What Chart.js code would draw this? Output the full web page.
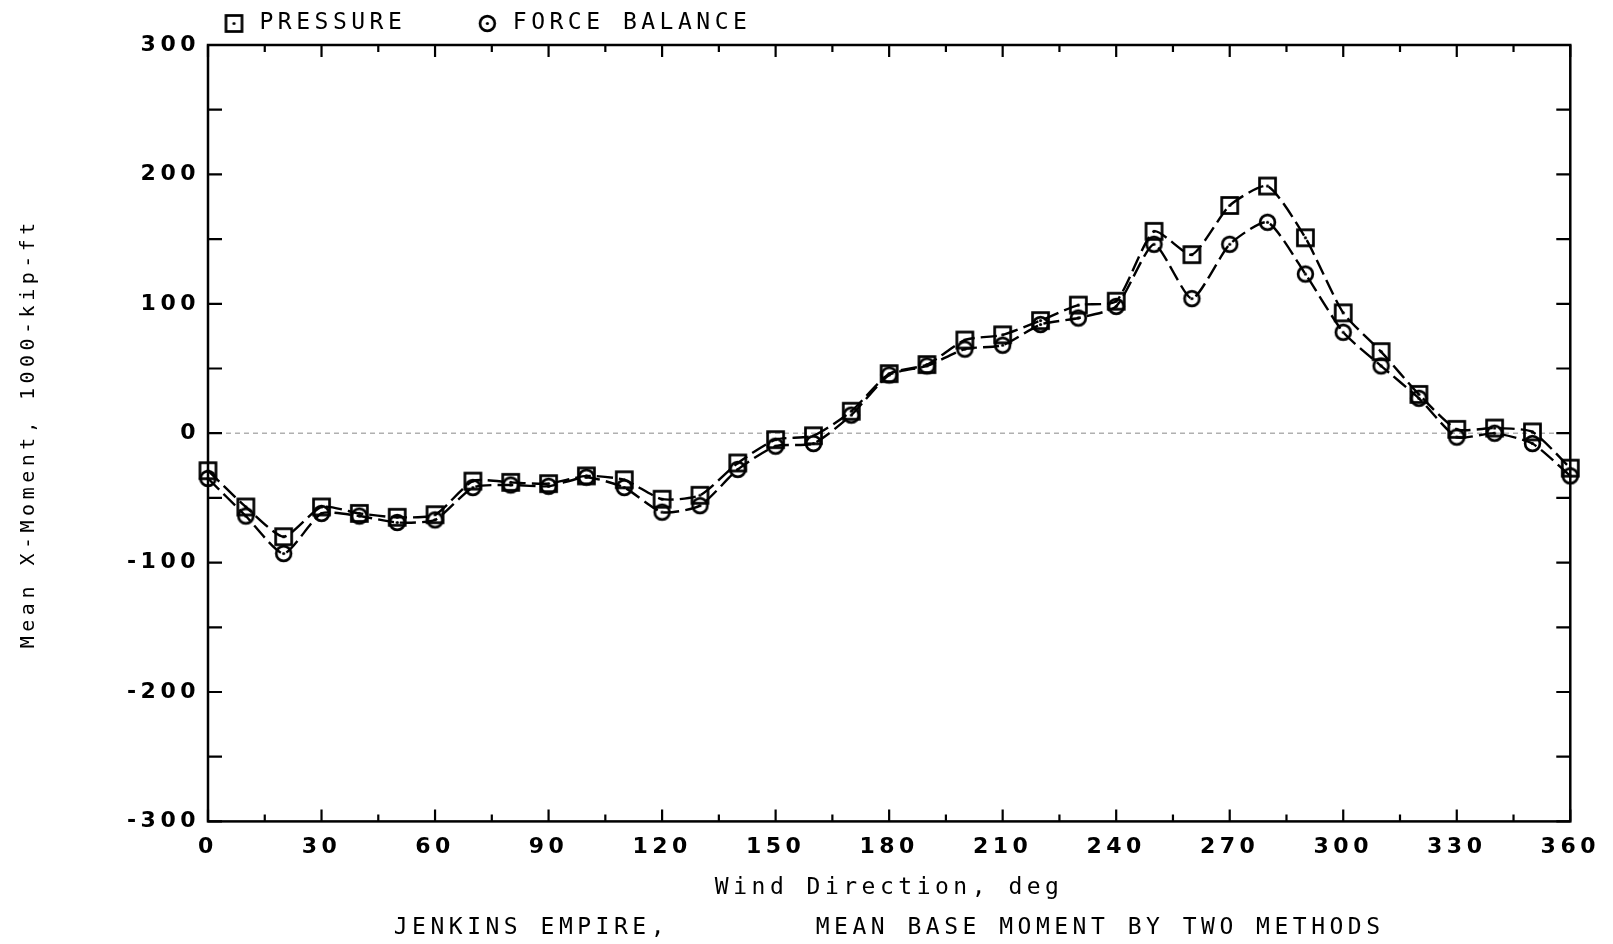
<!DOCTYPE html>
<html>
<head>
<meta charset="utf-8">
<title>Jenkins Empire - Mean Base Moment</title>
<script src="https://cdn.jsdelivr.net/npm/chart.js@4.4.1/dist/chart.umd.min.js"></script>
<style>
    html, body { margin: 0; padding: 0; background: #fff; }
    canvas { display: block; }
</style>
</head>
<body>
<canvas id="momentChart" width="1613" height="944"></canvas>
<script>
// Wind directions, deg
const directions = [0, 10, 20, 30, 40, 50, 60, 70, 80, 90, 100, 110, 120, 130, 140, 150, 160, 170, 180,
    190, 200, 210, 220, 230, 240, 250, 260, 270, 280, 290, 300, 310, 320, 330, 340, 350, 360];

// Mean X-moment from pressure integration, 1000-kip-ft
const pressure = [-29, -57, -80, -57, -62, -65, -63, -37, -38, -39, -33, -36, -51, -48, -23, -5, -2, 17, 46,
    53, 72, 76, 87, 99, 102, 156, 138, 176, 191, 151, 93, 63, 30, 3, 4, 1, -27];

// Mean X-moment from force balance, 1000-kip-ft
const forceBalance = [-35, -64, -93, -62, -64, -69, -67, -42, -40, -41, -34, -42, -61, -56, -28, -10, -8, 14, 45,
    52, 65, 68, 84, 89, 98, 146, 104, 146, 163, 123, 78, 52, 27, -3, 0, -8, -33];

// Tick labels
const xTickValues = [0, 30, 60, 90, 120, 150, 180, 210, 240, 270, 300, 330, 360];
const yTickValues = [-300, -200, -100, 0, 100, 200, 300];

const legendText = ['PRESSURE   ', 'FORCE BALANCE'];

const MONO = "'DejaVu Sans Mono', monospace";
const SANS = "'DejaVu Sans', sans-serif";

// Plotter style marker glyphs (outline with a dot in the middle)
function makeMarker(shape) {
    const c = document.createElement('canvas');
    c.width = 21;
    c.height = 21;
    const g = c.getContext('2d');
    g.strokeStyle = '#000';
    g.fillStyle = '#000';
    g.lineWidth = 2.7;
    if (shape === 'square') {
        g.strokeRect(2.5, 2.5, 16, 16);
    } else {
        g.beginPath();
        g.arc(10.5, 10.5, 7.4, 0, Math.PI * 2);
        g.stroke();
    }
    g.beginPath();
    g.arc(10.5, 10.5, 1.6, 0, Math.PI * 2);
    g.fill();
    return c;
}

// Wide letter spacing like the pen plotter lettering
const spacingPlugin = {
    id: 'plotterSpacing',
    beforeUpdate(chart) { chart.ctx.letterSpacing = '4.5px'; },
    beforeLayout(chart) { chart.ctx.letterSpacing = '4.5px'; },
    beforeDraw(chart) { chart.ctx.letterSpacing = '4.5px'; }
};

// Box frame with inward ticks on all four sides + dotted zero line
const framePlugin = {
    id: 'plotterFrame',
    beforeDatasetsDraw(chart) {
        const { ctx, chartArea: a, scales: { x, y } } = chart;
        ctx.save();

        ctx.strokeStyle = '#b0b0b0';
        ctx.lineWidth = 1.5;
        ctx.setLineDash([5, 4]);
        const y0 = y.getPixelForValue(0);
        ctx.beginPath();
        ctx.moveTo(a.left, y0);
        ctx.lineTo(a.right, y0);
        ctx.stroke();
        ctx.setLineDash([]);

        ctx.strokeStyle = '#000';
        ctx.lineWidth = 2.5;
        ctx.strokeRect(a.left, a.top, a.right - a.left, a.bottom - a.top);

        ctx.lineWidth = 2.2;
        ctx.beginPath();
        xTickValues.forEach((v, i) => {
            const px = x.getPixelForValue(v);
            ctx.moveTo(px, a.bottom); ctx.lineTo(px, a.bottom - 12);
            ctx.moveTo(px, a.top); ctx.lineTo(px, a.top + 12);
            if (i < xTickValues.length - 1) {
                const pm = x.getPixelForValue((v + xTickValues[i + 1]) / 2);
                ctx.moveTo(pm, a.bottom); ctx.lineTo(pm, a.bottom - 7);
                ctx.moveTo(pm, a.top); ctx.lineTo(pm, a.top + 7);
            }
        });
        yTickValues.forEach((v, i) => {
            const ticks = [v];
            if (i < yTickValues.length - 1) ticks.push((v + yTickValues[i + 1]) / 2);
            ticks.forEach(t => {
                const py = y.getPixelForValue(t);
                ctx.moveTo(a.left, py); ctx.lineTo(a.left + 14, py);
                ctx.moveTo(a.right, py); ctx.lineTo(a.right - 14, py);
            });
        });
        ctx.stroke();
        ctx.restore();
    }
};

function initMomentChart() {
    const ctx = document.getElementById('momentChart').getContext('2d');
    const squareMarker = makeMarker('square');
    const circleMarker = makeMarker('circle');

    new Chart(ctx, {
        type: 'line',
        data: {
            datasets: [{
                label: 'PRESSURE',
                data: directions.map((d, i) => ({ x: d, y: pressure[i] })),
                borderColor: '#000',
                borderWidth: 2.4,
                borderDash: [16, 6],
                pointStyle: squareMarker,
                pointRadius: 9,
                tension: 0.2,
                clip: false
            }, {
                label: 'FORCE BALANCE',
                data: directions.map((d, i) => ({ x: d, y: forceBalance[i] })),
                borderColor: '#000',
                borderWidth: 2.4,
                borderDash: [16, 6],
                pointStyle: circleMarker,
                pointRadius: 9,
                tension: 0.2,
                clip: false
            }]
        },
        options: {
            responsive: false,
            animation: false,
            devicePixelRatio: 1,
            layout: {
                padding: { left: 0, right: 40, top: 0, bottom: 0 }
            },
            plugins: {
                legend: {
                    position: 'top',
                    align: 'start',
                    fullSize: false,
                    labels: {
                        usePointStyle: true,
                        pointStyleWidth: 28,
                        padding: 12,
                        color: '#000',
                        font: { family: MONO, size: 23 },
                        generateLabels: function(chart) {
                            return Chart.defaults.plugins.legend.labels.generateLabels(chart)
                                .map((item, i) => Object.assign(item, { text: legendText[i] }));
                        }
                    }
                },
                title: {
                    display: true,
                    position: 'bottom',
                    fullSize: false,
                    text: 'JENKINS EMPIRE,        MEAN BASE MOMENT BY TWO METHODS',
                    color: '#000',
                    font: { family: MONO, size: 23, weight: 'normal' },
                    padding: { top: 10, bottom: 2 }
                },
                tooltip: { enabled: false }
            },
            scales: {
                x: {
                    type: 'linear',
                    min: 0,
                    max: 360,
                    afterFit: function(scale) { scale.height = 83; },
                    afterBuildTicks: function(scale) {
                        scale.ticks = xTickValues.map(v => ({ value: v }));
                    },
                    grid: { display: false, drawTicks: false },
                    border: { display: false },
                    ticks: {
                        autoSkip: false,
                        maxRotation: 0,
                        padding: 13,
                        color: '#000',
                        font: { family: SANS, size: 22, weight: 'bold' }
                    },
                    title: {
                        display: true,
                        text: 'Wind Direction, deg',
                        color: '#000',
                        font: { family: MONO, size: 23 },
                        padding: { top: 0, bottom: 3 }
                    }
                },
                y: {
                    type: 'linear',
                    min: -300,
                    max: 300,
                    afterFit: function(scale) { scale.width = 208; },
                    afterBuildTicks: function(scale) {
                        scale.ticks = yTickValues.map(v => ({ value: v }));
                    },
                    grid: { display: false, drawTicks: false },
                    border: { display: false },
                    ticks: {
                        padding: 8,
                        color: '#000',
                        font: { family: SANS, size: 22, weight: 'bold' }
                    },
                    title: {
                        display: true,
                        text: 'Mean X-Moment, 1000-kip-ft',
                        color: '#000',
                        font: { family: MONO, size: 20 },
                        padding: { top: 17, bottom: 0 }
                    }
                }
            }
        },
        plugins: [spacingPlugin, framePlugin]
    });
}

document.addEventListener('DOMContentLoaded', initMomentChart);
</script>
</body>
</html>
